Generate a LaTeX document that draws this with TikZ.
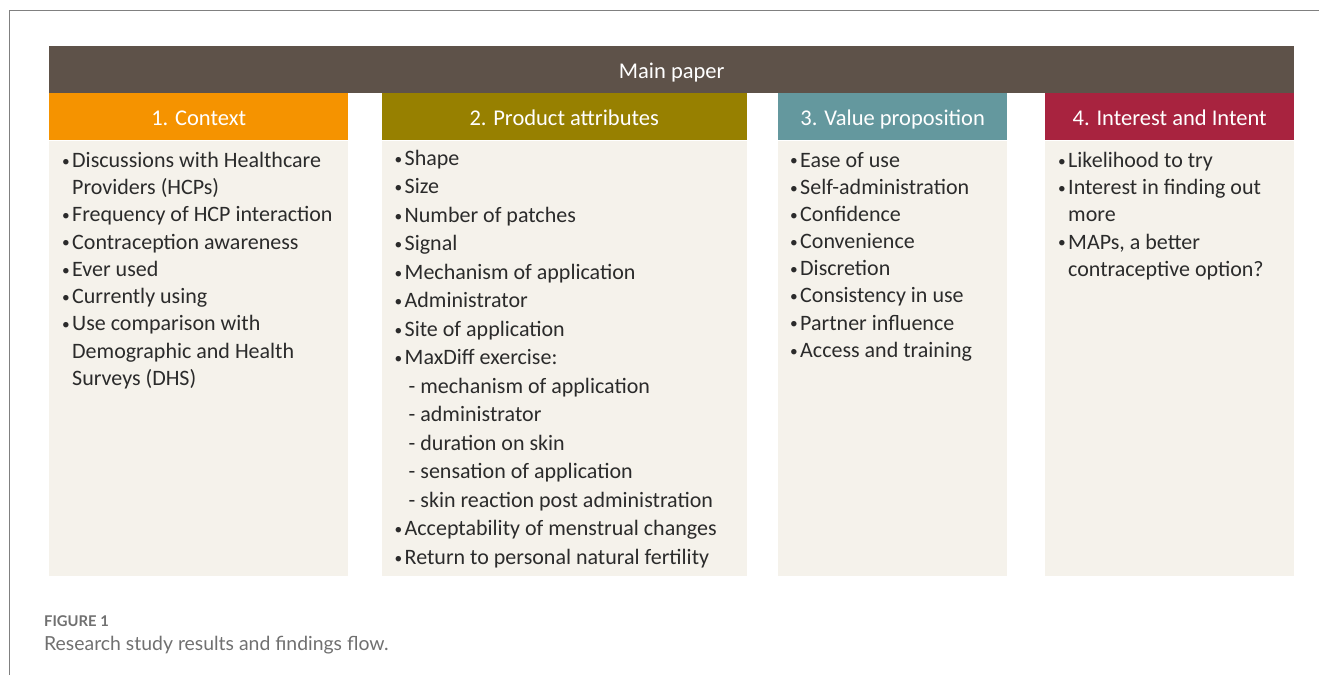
\documentclass[tikz,border=0pt]{standalone}
\usepackage{fontspec}
\setmainfont{Carlito}
\newfontfamily\capfont{Lato}

\definecolor{mainbar}{HTML}{5E5249}
\definecolor{ctxcol}{HTML}{F59300}
\definecolor{prodcol}{HTML}{978000}
\definecolor{valcol}{HTML}{64989E}
\definecolor{intcol}{HTML}{A8233F}
\definecolor{bodycol}{HTML}{F5F2EB}
\definecolor{itemtext}{HTML}{2B2B2B}
\definecolor{framecol}{HTML}{808080}
\definecolor{captext}{HTML}{707070}

% bullet, continuation and dash lines of the lists
\newcommand{\bul}{\makebox[10pt][l]{\raisebox{1.2pt}{\scalebox{0.7}{•}}}}
\newcommand{\cnt}{\hspace*{10pt}}
\newcommand{\dsh}{\hspace*{14pt}- }

\begin{document}
\begin{tikzpicture}[x=1pt,y=-1pt,
    bar/.style={fill=#1, draw=none, inner sep=0pt, anchor=north west,
        text=white, text height=22pt, text depth=5pt,
        font=\fontsize{22.5}{27}\selectfont},
    body/.style={fill=bodycol, draw=none, inner sep=0pt, anchor=north west,
        minimum height=435pt},
    items/.style={inner sep=0pt, anchor=north west, align=left,
        text=itemtext, font=\fontsize{22}{#1}\selectfont}]
\useasboundingbox (0,0) rectangle (1319,675);

% frame
\draw[framecol, line width=1.3pt] (9.5,675) -- (9.5,10.5) -- (1319,10.5);

% top bar
\node[bar=mainbar, minimum width=1245pt, minimum height=47pt] (main) at (49,46) {Main paper};

% column headers
\node[bar=ctxcol,  minimum width=299pt, minimum height=47pt] (ctx)  at (49,93)   {1. Context};
\node[bar=prodcol, minimum width=365pt, minimum height=47pt] (prod) at (381.5,93) {2. Product attributes};
\node[bar=valcol,  minimum width=229pt, minimum height=47pt] (val)  at (778,93)  {3. Value proposition};
\node[bar=intcol,  minimum width=249pt, minimum height=47pt] (int)  at (1045,93) {4. Interest and Intent};

% column bodies
\node[body, minimum width=299pt] (ctx-body)  at (ctx.south west)  {};
\node[body, minimum width=365pt] (prod-body) at (prod.south west) {};
\node[body, minimum width=229pt] (val-body)  at (val.south west)  {};
\node[body, minimum width=249pt] (int-body)  at (int.south west)  {};

\node[items=27.25] (ctx-list) at ([shift={(13,11.5)}]ctx-body.north west) {%
\bul Discussions with Healthcare\\
\cnt Providers (HCPs)\\
\bul Frequency of HCP interaction\\
\bul Contraception awareness\\
\bul Ever used\\
\bul Currently using\\
\bul Use comparison with\\
\cnt Demographic and Health\\
\cnt Surveys (DHS)};

\node[items=28.5] (prod-list) at ([shift={(13,9.5)}]prod-body.north west) {%
\bul Shape\\
\bul Size\\
\bul Number of patches\\
\bul Signal\\
\bul Mechanism of application\\
\bul Administrator\\
\bul Site of application\\
\bul MaxDiff exercise:\\
\dsh mechanism of application\\
\dsh administrator\\
\dsh duration on skin\\
\dsh sensation of application\\
\dsh skin reaction post administration\\
\bul Acceptability of menstrual changes\\
\bul Return to personal natural fertility};

\node[items=27.15] (val-list) at ([shift={(12,11.5)}]val-body.north west) {%
\bul Ease of use\\
\bul Self-administration\\
\bul Confidence\\
\bul Convenience\\
\bul Discretion\\
\bul Consistency in use\\
\bul Partner influence\\
\bul Access and training};

\node[items=27.25] (int-list) at ([shift={(13,11.5)}]int-body.north west) {%
\bul Likelihood to try\\
\bul Interest in finding out\\
\cnt more\\
\bul MAPs, a better\\
\cnt contraceptive option?};

% caption
\node[anchor=base west, inner sep=0pt, text=captext,
    font=\capfont\bfseries\fontsize{14.8}{16}\selectfont] (fig-no) at (44,626) {FIGURE 1};
\node[anchor=base west, inner sep=0pt, text=captext,
    font=\capfont\fontsize{19.4}{22}\selectfont] (fig-cap) at (44,650) {Research study results and findings flow.};
\end{tikzpicture}
\end{document}
